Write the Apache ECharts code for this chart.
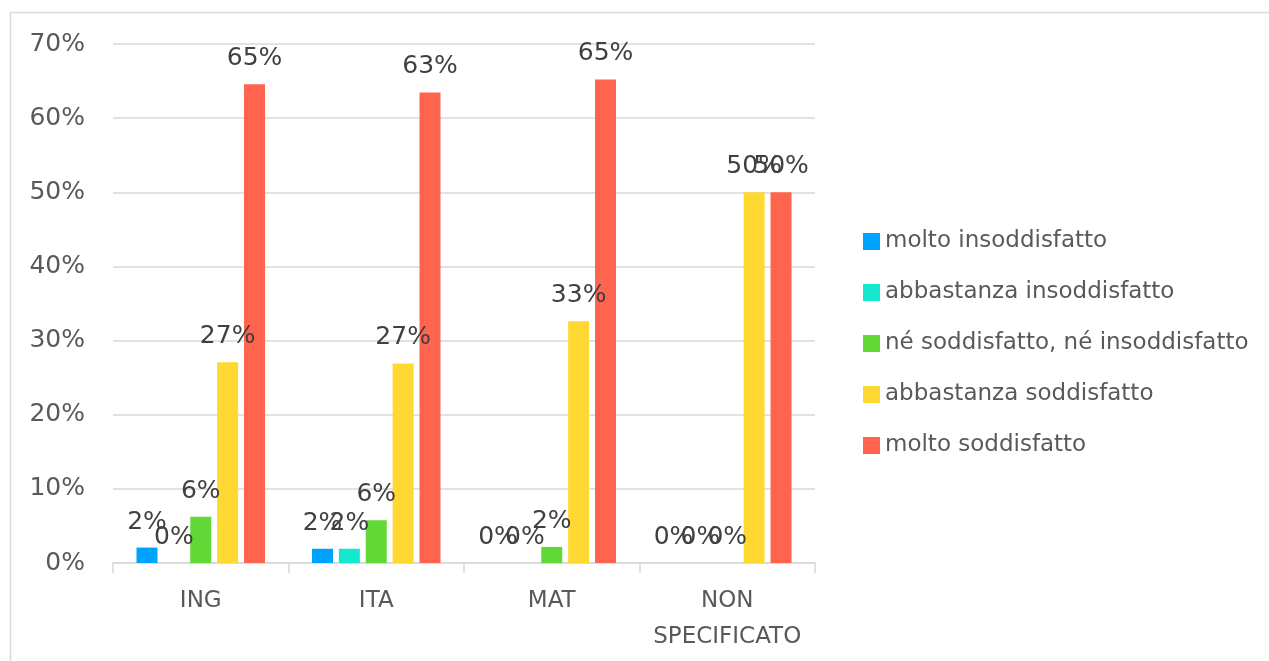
<!DOCTYPE html>
<html>
<head>
<meta charset="utf-8">
<script src="https://cdn.jsdelivr.net/npm/echarts@6/dist/echarts.min.js"></script>
<style>
html,body{margin:0;padding:0;background:#fff;}
#c{width:1269px;height:661px;}
</style>
</head>
<body>
<div id="c"></div>
<script>
const categories = ['ING', 'ITA', 'MAT', 'NON SPECIFICATO'];
const seriesNames = ['molto insoddisfatto', 'abbastanza insoddisfatto', 'né soddisfatto, né insoddisfatto', 'abbastanza soddisfatto', 'molto soddisfatto'];
const moltoInsoddisfatto = [0.0208, 0.0192, 0, 0];
const abbastanzaInsoddisfatto = [0, 0.0192, 0, 0];
const neSoddisfattoNeInsoddisfatto = [0.0625, 0.0577, 0.0217, 0];
const abbastanzaSoddisfatto = [0.2708, 0.2692, 0.3261, 0.5];
const moltoSoddisfatto = [0.6458, 0.6346, 0.6522, 0.5];
const colors = ['#00A2FF', '#16E7CF', '#61D836', '#FFD932', '#FF644E'];
const yTicks = [0, 0.1, 0.2, 0.3, 0.4, 0.5, 0.6, 0.7];

const values = [moltoInsoddisfatto, abbastanzaInsoddisfatto, neSoddisfattoNeInsoddisfatto, abbastanzaSoddisfatto, moltoSoddisfatto];
const FONT = 'DejaVu Sans';
const chart = echarts.init(document.getElementById('c'));
chart.setOption({
  animation: false,
  graphic: [{
    type: 'rect',
    shape: { x: 10.5, y: 12.5, width: 1400, height: 800 },
    style: { fill: 'none', stroke: '#d9d9d9', lineWidth: 1.5 },
    silent: true
  }],
  grid: { left: 113, right: 454, top: 44, bottom: 98, containLabel: false },
  legend: {
    orient: 'vertical',
    left: 858,
    top: 225,
    itemWidth: 17,
    itemHeight: 17,
    itemGap: 28,
    icon: 'rect',
    textStyle: { fontFamily: FONT, fontSize: 23, color: '#595959', padding: [0, 0, 0, 0] },
    data: seriesNames
  },
  xAxis: {
    type: 'category',
    data: categories,
    axisLine: { lineStyle: { color: '#d9d9d9', width: 1.5 } },
    axisTick: { show: true, interval: 0, length: 10, lineStyle: { color: '#d9d9d9', width: 1.5 } },
    axisLabel: {
      interval: 0,
      fontFamily: FONT, fontSize: 23, color: '#595959', margin: 20, lineHeight: 36,
      formatter: v => v.replace(' ', '\n')
    }
  },
  yAxis: {
    type: 'value',
    min: yTicks[0],
    max: yTicks[yTicks.length - 1],
    interval: 0.1,
    axisLine: { show: false },
    axisTick: { show: false },
    splitLine: { lineStyle: { color: '#d9d9d9', width: 1.5 } },
    axisLabel: {
      fontFamily: FONT, fontSize: 25, color: '#595959', margin: 28,
      padding: [4, 0, 0, 0],
      formatter: v => Math.round(v * 100) + '%'
    }
  },
  series: seriesNames.map((n, i) => ({
    name: n,
    type: 'bar',
    data: values[i],
    barWidth: 21,
    barGap: '28%',
    itemStyle: { color: colors[i] },
    label: {
      show: true,
      position: 'top',
      distance: 13,
      fontFamily: FONT,
      fontSize: 25,
      color: '#404040',
      formatter: p => Math.round(p.value * 100) + '%'
    }
  }))
});
</script>
</body>
</html>
